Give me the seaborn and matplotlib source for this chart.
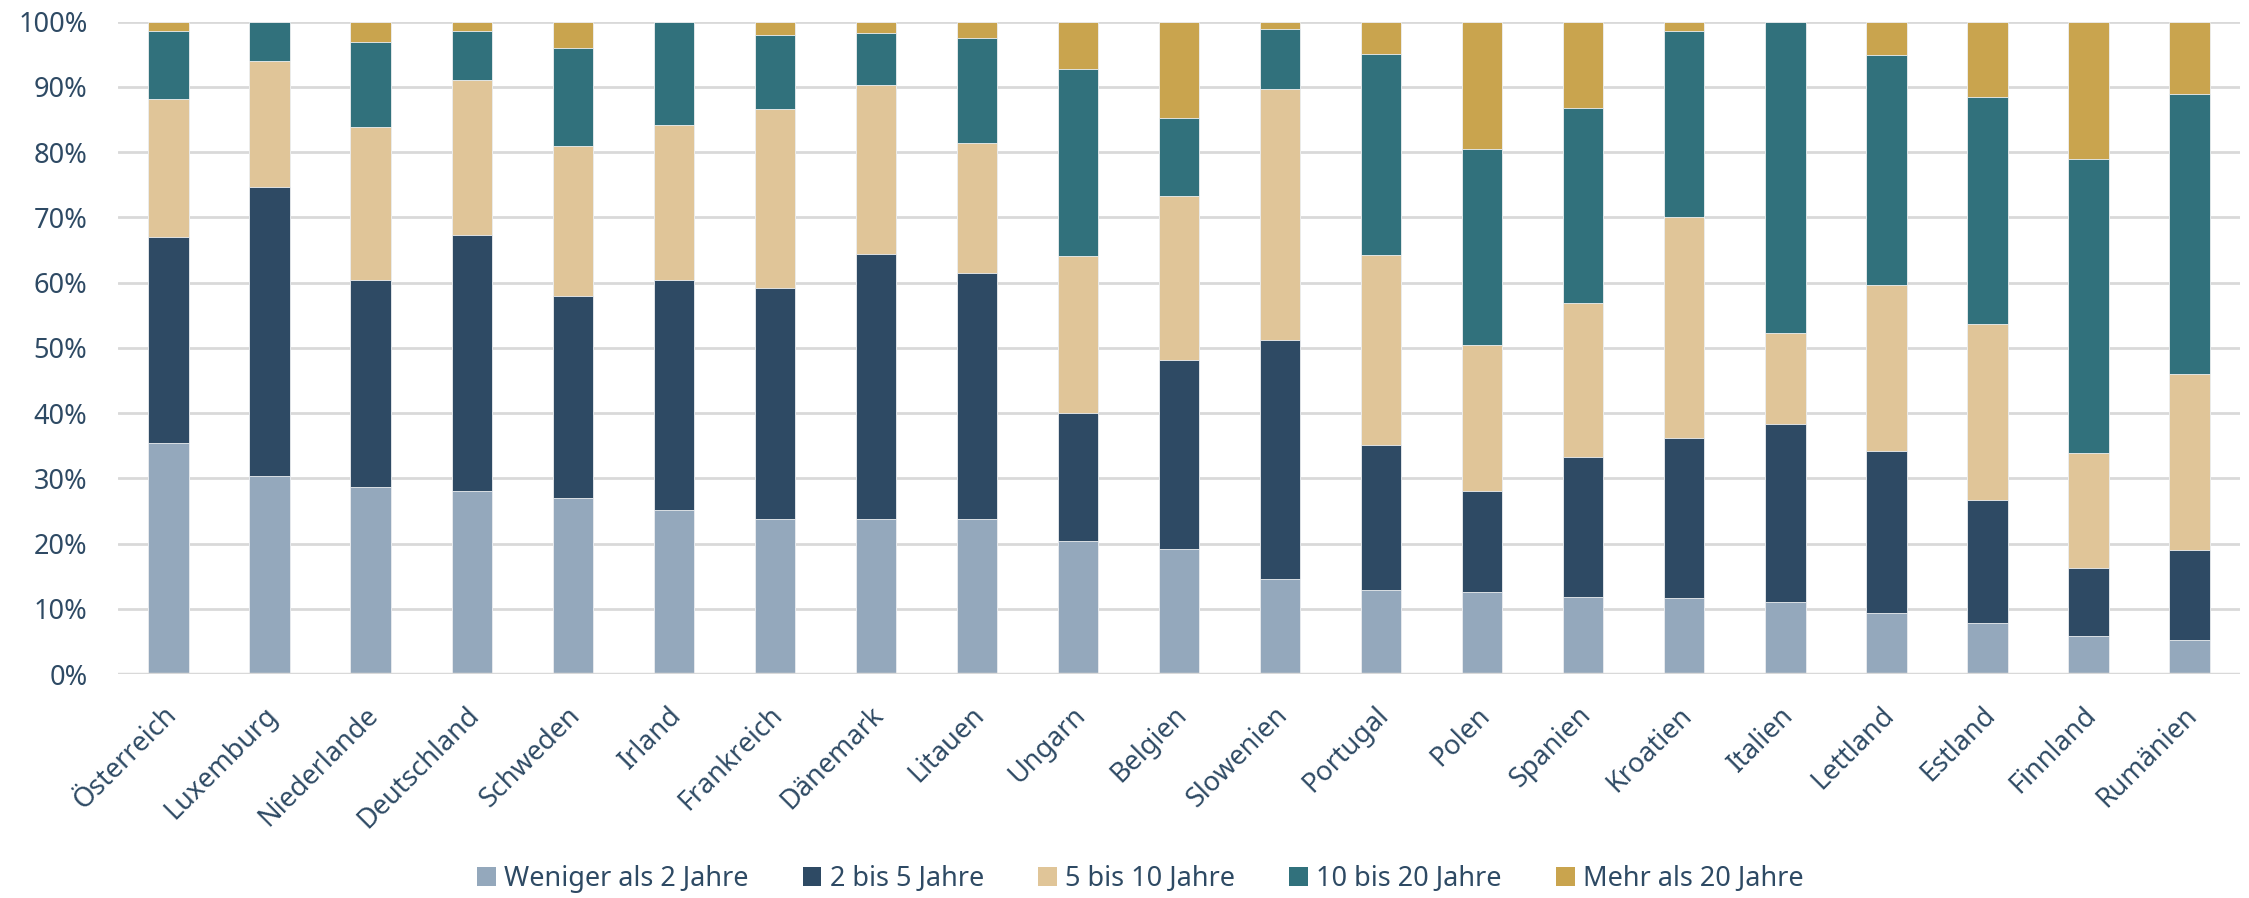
import numpy as np
import pandas as pd
import seaborn as sns
import matplotlib.pyplot as plt
from matplotlib.patches import Patch
from matplotlib.ticker import PercentFormatter
from matplotlib.transforms import ScaledTranslation

countries = ["Österreich", "Luxemburg", "Niederlande", "Deutschland", "Schweden",
             "Irland", "Frankreich", "Dänemark", "Litauen", "Ungarn", "Belgien",
             "Slowenien", "Portugal", "Polen", "Spanien", "Kroatien", "Italien",
             "Lettland", "Estland", "Finnland", "Rumänien"]

categories = ["Weniger als 2 Jahre", "2 bis 5 Jahre", "5 bis 10 Jahre",
              "10 bis 20 Jahre", "Mehr als 20 Jahre"]

unter_2 = [35.4, 30.3, 28.7, 28.1, 27.0, 25.1, 23.8, 23.8, 23.7, 20.4, 19.2,
           14.6, 12.9, 12.6, 11.8, 11.6, 11.1, 9.3, 7.8, 5.9, 5.2]
j2_5 = [31.6, 44.4, 31.7, 39.2, 30.9, 35.3, 35.3, 40.6, 37.7, 19.6, 29.0,
        36.6, 22.2, 15.4, 21.4, 24.5, 27.2, 24.9, 18.9, 10.3, 13.8]
j5_10 = [21.1, 19.2, 23.4, 23.8, 23.0, 23.8, 27.5, 25.9, 20.0, 24.1, 25.0,
         38.4, 29.1, 22.5, 23.6, 34.0, 14.0, 25.4, 26.9, 17.6, 27.0]
j10_20 = [10.5, 6.1, 13.0, 7.5, 15.1, 15.8, 11.4, 7.9, 16.1, 28.7, 12.0,
          9.2, 30.8, 29.9, 30.0, 28.4, 47.7, 35.2, 34.9, 45.1, 42.9]
ueber_20 = [1.4, 0.0, 3.2, 1.4, 4.0, 0.0, 2.0, 1.8, 2.5, 7.2, 14.8,
            1.2, 5.0, 19.6, 13.2, 1.5, 0.0, 5.2, 11.5, 21.1, 11.1]

colors = ["#94A8BC", "#2E4A64", "#E0C598", "#31717C", "#C9A44E"]
text_color = "#2E4A64"

df = pd.DataFrame({"Land": countries, categories[0]: unter_2, categories[1]: j2_5,
                   categories[2]: j5_10, categories[3]: j10_20, categories[4]: ueber_20})
vals = df[categories]
vals = vals.div(vals.sum(axis=1), axis=0) * 100
cum = vals.cumsum(axis=1)

sns.set_style("white")
plt.rcParams["font.family"] = ["Noto Sans", "DejaVu Sans"]

fig = plt.figure(figsize=(22.49, 8.98), dpi=100)
ax = fig.add_axes([0.0525, 0.2494, 0.9435, 0.7266])

for ax_y in range(10, 101, 10):
    ax.axhline(ax_y, color="#D9D9D9", lw=2, zorder=0)

# draw from the top layer down so each shorter bar covers the one behind
for cat, col in zip(reversed(categories), reversed(colors)):
    sns.barplot(x=df["Land"], y=cum[cat], color=col, width=0.4, saturation=1,
                edgecolor="#EEF0F2", linewidth=0.6, ax=ax, zorder=2)

ax.axhline(0, color="#D9D9D9", lw=2.5, zorder=3)
ax.set_xlim(-0.5, 20.5)
ax.set_ylim(0, 100)
ax.set_yticks(range(0, 101, 10))
ax.yaxis.set_major_formatter(PercentFormatter(decimals=0))
ax.set_xlabel("")
ax.set_ylabel("")
for s in ax.spines.values():
    s.set_visible(False)
ax.tick_params(axis="y", length=0, labelsize=19.5, colors=text_color, pad=22)
ax.tick_params(axis="x", length=0, labelsize=19.5, colors=text_color, pad=8)
shift = ScaledTranslation(-0.06, -0.16, fig.dpi_scale_trans)
for lab in ax.get_xticklabels():
    lab.set_rotation(45)
    lab.set_ha("right")
    lab.set_rotation_mode("anchor")
    lab.set_transform(lab.get_transform() + shift)

handles = [Patch(facecolor=c, edgecolor="none") for c in colors]
fig.legend(handles, categories, loc="center", bbox_to_anchor=(0.507, 0.021),
           ncol=5, frameon=False, fontsize=19.5, labelcolor=text_color,
           handlelength=0.7, handleheight=0.7, handletextpad=0.3, columnspacing=2.0)

fig.savefig("out.png", dpi=100)
